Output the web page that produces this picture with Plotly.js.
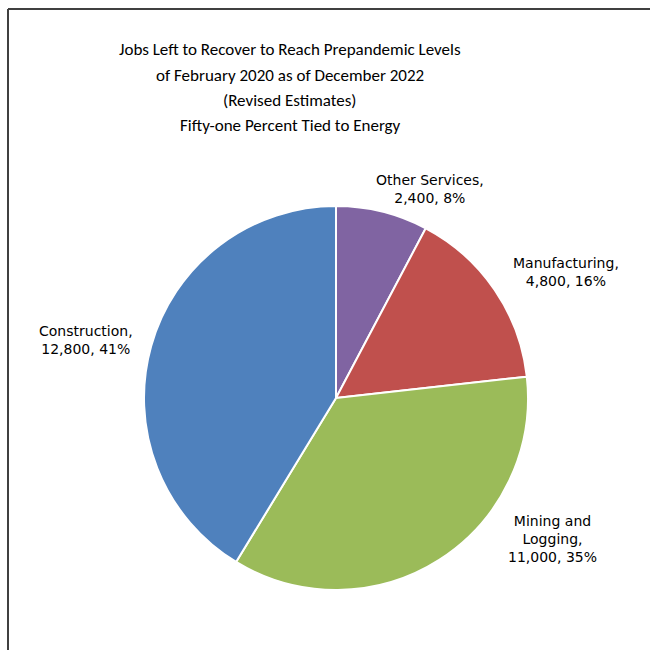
<!DOCTYPE html>
<html>
<head>
<meta charset="utf-8">
<script src="https://cdn.plot.ly/plotly-3.0.1.min.js"></script>
<style>html,body{margin:0;padding:0;background:#fff}#chart{width:650px;height:650px}</style>
</head>
<body>
<div id="chart"></div>
<script>
const categories = ["Other Services", "Manufacturing", "Mining and<br>Logging", "Construction"];
const jobs = [2400, 4800, 11000, 12800];
const pctLabels = ["8%", "16%", "35%", "41%"];
const colors = ["#8064A2", "#C0504D", "#9BBB59", "#4F81BD"];
const titleLines = [
  "Jobs Left to Recover to Reach Prepandemic Levels",
  "of February 2020 as of December 2022",
  "(Revised Estimates)",
  "Fifty-one Percent Tied to Energy"
];

const labelPos = [
  {x: 430, y: 189},
  {x: 566, y: 272},
  {x: 552, y: 539},
  {x: 86, y: 340}
];
const titleY = [49, 75, 100, 126];

const labelAnns = categories.map((c, i) => ({
  xref: "paper", yref: "paper",
  x: labelPos[i].x / 650, y: 1 - labelPos[i].y / 650,
  xanchor: "center", yanchor: "middle",
  showarrow: false,
  align: "center",
  text: c + ",<br>" + jobs[i].toLocaleString("en-US") + ", " + pctLabels[i],
  font: {family: "DejaVu Sans, sans-serif", size: 14, color: "#000"}
}));

const titleAnns = titleLines.map((t, i) => ({
  xref: "paper", yref: "paper",
  x: 290 / 650, y: 1 - titleY[i] / 650,
  xanchor: "center", yanchor: "middle",
  showarrow: false,
  text: t,
  font: {family: "Carlito, Liberation Sans Narrow, Open Sans, sans-serif", size: 17, color: "#000"}
}));

const data = [{
  type: "pie",
  labels: categories,
  values: jobs,
  sort: false,
  direction: "clockwise",
  rotation: 0,
  textinfo: "none",
  hoverinfo: "label+value+percent",
  marker: {colors: colors, line: {color: "#ffffff", width: 2}},
  domain: {x: [(336 - 192) / 650, (336 + 192) / 650], y: [(252 - 192) / 650, (252 + 192) / 650]},
  showlegend: false
}];

const layout = {
  width: 650, height: 650,
  margin: {l: 0, r: 0, t: 0, b: 0},
  paper_bgcolor: "#fff",
  annotations: titleAnns.concat(labelAnns),
  shapes: [
    {type: "line", xref: "paper", yref: "paper", x0: 8 / 650, x1: 1, y0: 1 - 9 / 650, y1: 1 - 9 / 650, line: {color: "#404040", width: 2}},
    {type: "line", xref: "paper", yref: "paper", x0: 8 / 650, x1: 8 / 650, y0: 0, y1: 1 - 9 / 650, line: {color: "#404040", width: 2}}
  ]
};

Plotly.newPlot("chart", data, layout, {displayModeBar: false, staticPlot: true});
</script>
</body>
</html>
